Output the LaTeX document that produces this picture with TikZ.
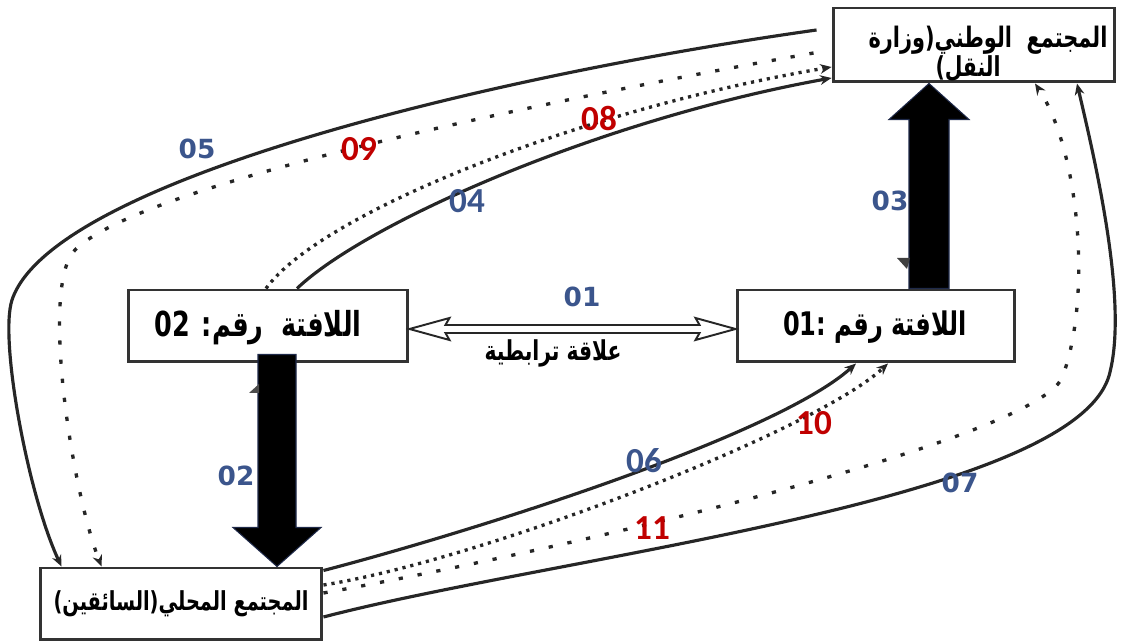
\documentclass[tikz,border=0pt]{standalone}
\usepackage{fontspec}
\usepackage{graphicx}
\usetikzlibrary{arrows.meta,calc}
\TeXXeTstate=1
\newfontfamily\arabicfont[Script=Arabic]{DejaVu Sans}
\newfontfamily\numfont{DejaVu Sans}
\newfontfamily\calfont{Carlito}
\definecolor{lblue}{HTML}{3B558C}
\definecolor{lred}{HTML}{C00000}
\definecolor{navy}{HTML}{1F2A4A}
\newcommand{\artext}[2]{\scalebox{1}[1.35]{\resizebox{#1}{!}{\arabicfont\bfseries #2}}}
\begin{document}
\begin{tikzpicture}[x=0.02cm,y=-0.02cm,
  box/.style={draw=black!80, line width=1.7pt, fill=white, inner sep=0pt},
  artxt/.style={inner sep=0pt},
  nb/.style={font=\numfont\bfseries\fontsize{15}{18}\selectfont, text=lblue, inner sep=0pt},
  nc/.style={font=\calfont\bfseries\fontsize{20}{24}\selectfont, inner sep=0pt},
  tip/.style={-{Stealth[length=6.5pt,width=5.5pt]}},
  solidc/.style={draw=black!85, line width=1.8pt, tip},
  densec/.style={draw=black!85, line width=1.9pt, dash pattern=on 1.8pt off 2.8pt, tip},
  sparsec/.style={draw=black!85, line width=1.9pt, dash pattern=on 2.4pt off 8.5pt, tip},
  block/.style={fill=black, draw=navy, line width=0.6pt},
  dbl/.style={fill=white, draw=black!85, line width=1.1pt, line join=miter},
]
\path[use as bounding box] (0,0) rectangle (1123,644);

% boxes
\node[box, minimum width=5.64cm, minimum height=1.48cm] (nat) at (974,45) {};
\node[box, minimum width=5.6cm, minimum height=1.44cm] (s02) at (268,326) {};
\node[box, minimum width=5.56cm, minimum height=1.44cm] (s01) at (876,326) {};
\node[box, minimum width=5.64cm, minimum height=1.44cm] (loc) at (181,604) {};

% box texts
\node[artxt] (natt) at (988,40) {\artext{4.78cm}{\beginR المجتمع\ \ الوطني(وزارة\endR}};
\node[artxt] (natt2) at (968,69) {\artext{1.3cm}{\beginR النقل)\endR}};
\node[artxt] (s02t) at (258,328) {\artext{4.14cm}{\beginR اللافتة\ \ رقم: \beginL 02\endL\endR}};
\node[artxt] (s01t) at (875,327) {\artext{3.68cm}{\beginR اللافتة رقم :\beginL 01\endL\endR}};
\node[artxt] (loct) at (181,604) {\artext{5.1cm}{\beginR المجتمع المحلي(السائقين)\endR}};
\node[artxt] (rel) at (553,353) {\artext{2.74cm}{\beginR علاقة ترابطية\endR}};

% anchor coordinates
\coordinate (c05s) at ($(nat.west)+(-15,-15)$);
\coordinate (c09s) at ($(nat.west)+(-18,8)$);
\coordinate (c08e) at ($(nat.west)+(0,22)$);
\coordinate (c04e) at ($(nat.west)+(0,33)$);
\coordinate (c11e) at ($(nat.south)+(61,0)$);
\coordinate (c07e) at ($(nat.south)+(103,0)$);
\coordinate (c04s) at ($(s02.north)+(29,0)$);
\coordinate (c08s) at ($(s02.north)+(-2,0)$);
\coordinate (c06e) at ($(s01.south)+(-20,0)$);
\coordinate (c10e) at ($(s01.south)+(12,0)$);
\coordinate (c05e) at ($(loc.north west)+(23,0)$);
\coordinate (c09e) at ($(loc.north west)+(63,0)$);
\coordinate (c06s) at ($(loc.north east)+(0,4)$);
\coordinate (c10s) at ($(loc.east)+(0,-19)$);
\coordinate (c11s) at ($(loc.east)+(0,-11)$);
\coordinate (c07s) at ($(loc.east)+(0,13)$);

% curves
\draw[solidc] (c04s) .. controls +(68,-65) and +(-233,42) .. (c04e);
\draw[densec] (c08s) .. controls +(54,-75) and +(-253,43) .. (c08e);
\draw[sparsec] (c09s) .. controls +(-282,50) and +(65,-65) .. (75,250)
   .. controls +(-35,35) and +(-30,-77) .. (c09e);
\draw[solidc] (c05s) .. controls +(-320,45) and +(40,-120) .. (12,300)
   .. controls +(-13,40) and +(-33,-70) .. (c05e);
\draw[solidc] (c06s) .. controls +(153,-40) and +(-80,72) .. (c06e);
\draw[densec] (c10s) .. controls +(158,-25) and +(-73,68) .. (c10e);
\draw[sparsec] (c11s) .. controls +(250,-45) and +(-30,62) .. (1062,378)
   .. controls +(30,-78) and +(45,68) .. (c11e);
\draw[solidc] (c07s) .. controls +(238,-62) and +(-28,128) .. (1110,372)
   .. controls +(18,-72) and +(18,77) .. (c07e);

% double-headed relation arrow 01
\coordinate (rl) at ($(s02.east)+(0,3)$);
\coordinate (rr) at ($(s01.west)+(0,3)$);
\draw[dbl] (rl) -- ($(rl)+(40,-11)$) -- ($(rl)+(36,-4)$) -- ($(rr)+(-36,-4)$) -- ($(rr)+(-40,-11)$) -- (rr)
  -- ($(rr)+(-40,11)$) -- ($(rr)+(-36,4)$) -- ($(rl)+(36,4)$) -- ($(rl)+(40,11)$) -- cycle;

% block arrows
\coordinate (a3s) at ($(s01.north)+(53,0)$);
\coordinate (a3e) at (a3s |- nat.south);
\filldraw[block] ($(a3s)+(-20,0)$) -- ($(a3e)+(-20,36)$) -- ($(a3e)+(-40,36)$) -- (a3e)
  -- ($(a3e)+(40,36)$) -- ($(a3e)+(20,36)$) -- ($(a3s)+(20,0)$) -- cycle;
\coordinate (a2s) at ($(s02.south)+(9,-9)$);
\coordinate (a2e) at (a2s |- loc.north);
\filldraw[block] ($(a2s)+(-19,0)$) -- ($(a2e)+(-19,-39)$) -- ($(a2e)+(-44,-39)$) -- (a2e)
  -- ($(a2e)+(44,-39)$) -- ($(a2e)+(19,-39)$) -- ($(a2s)+(19,0)$) -- cycle;

% small stray arrowheads
\fill[black!75] (897,258) -- (910,258) -- (907,269) -- cycle;
\fill[black!70] (249,393) -- (259,393) -- (259,384) -- cycle;

% labels
\node[nb] (l05) at (197,149) {05};
\node[nc, text=lred] (l09) at (359,149) {09};
\node[nc, text=lred] (l08) at (599,119) {08};
\node[nc, text=lblue] (l04) at (467,201) {04};
\node[nb] (l03) at (890,201) {03};
\node[nb] (l01) at (582,297) {01};
\node[nb] (l02) at (236,476) {02};
\node[nc, text=lblue] (l06) at (644,461) {06};
\node[nc, text=lred] (l10) at (814,423) {10};
\node[nc, text=lred] (l11) at (652,528) {11};
\node[nb] (l07) at (960,483) {07};
\end{tikzpicture}
\end{document}
